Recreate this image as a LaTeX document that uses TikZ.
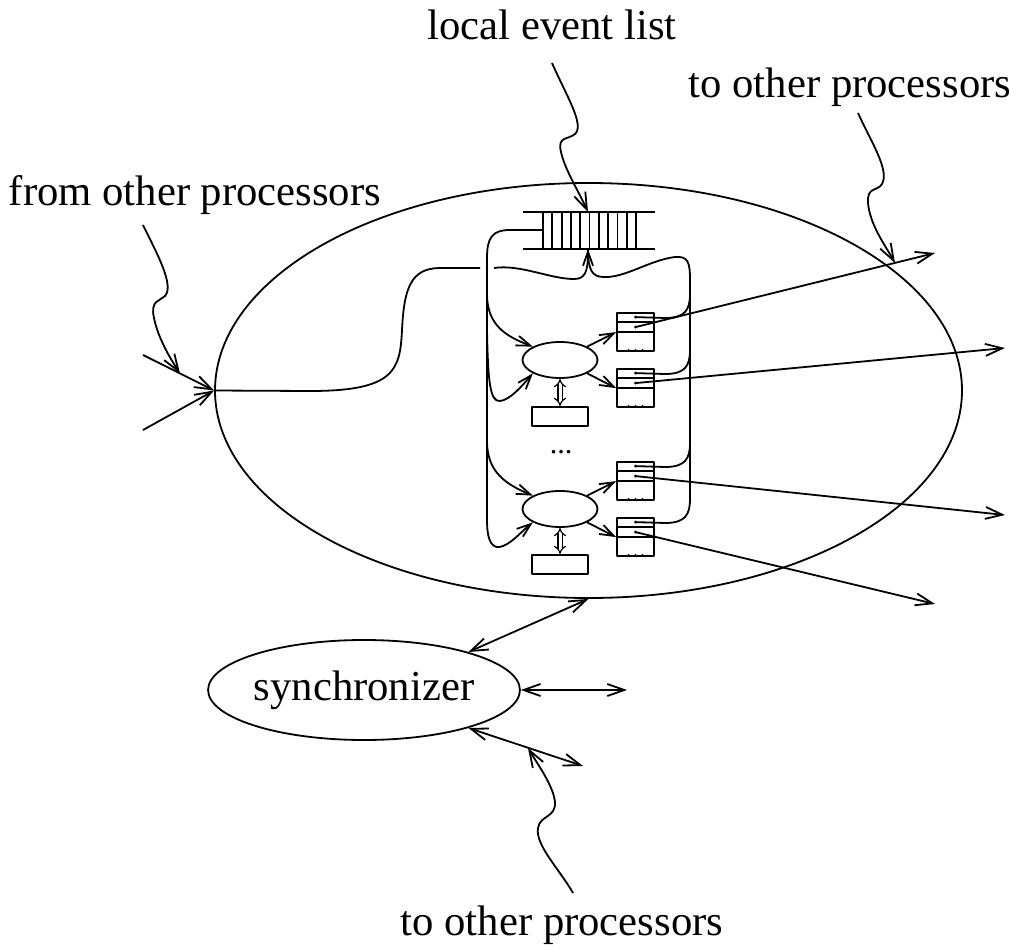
\documentclass[tikz,border=0pt]{standalone}
\usepackage{fontspec}
\setmainfont{Liberation Serif}
\usetikzlibrary{arrows.meta,shapes.geometric,calc}
\begin{document}
\begin{tikzpicture}[x=1pt,y=-1pt, line width=1.8pt, line join=round,
  lbl/.style={font=\fontsize{42.7}{50}\selectfont, anchor=base, inner sep=0pt},
  arr/.style={-{Straight Barb[length=17pt,width=12pt]}},
  darr/.style={{Straight Barb[length=17pt,width=12pt]}-{Straight Barb[length=17pt,width=12pt]}},
  sarr/.style={-{Straight Barb[length=14pt,width=10pt]}},
  dbl/.style={double, double distance=3pt, line width=1.2pt, {Implies[length=5pt]}-{Implies[length=5pt]}},
  qbox/.style={draw, rectangle, minimum width=37pt, minimum height=38pt, inner sep=0pt},
  proc/.style={draw, ellipse, minimum width=75pt, minimum height=36pt, inner sep=0pt},
  mem/.style={draw, rectangle, minimum width=56pt, minimum height=19pt, inner sep=0pt},
]
\useasboundingbox (0,0) rectangle (1025,950);

% labels
\node[lbl] (lel) at (552,40) {local event list};
\node[lbl] (tot) at (850,97) {to other processors};
\node[lbl] (fop) at (195,205) {from other processors};
\node[lbl] (tob) at (562,935) {to other processors};

% big processor ellipse
\node[draw, ellipse, minimum width=747pt, minimum height=415pt, inner sep=0pt] (pe) at (588.5,390.5) {};

% synchronizer
\node[draw, ellipse, minimum width=296pt, minimum height=100pt, inner sep=0pt,
      font=\fontsize{42.7}{50}\selectfont] (sync) at (364,690) {synchronizer};

% queue (local event list)
\coordinate (qtop) at (588,212);
\coordinate (qbot) at (588,249);
\coordinate (qleft) at (543,230);
\draw (523,212) -- (655,212);
\draw (523,249) -- (655,249);
\foreach \i in {0,...,10} \draw (543+\i*9.3,212) -- (543+\i*9.3,249);

% logical processes
\node[proc] (p1) at (560,360) {};
\node[proc] (p2) at (560,509) {};
\node[mem] (m1) at (560,416.5) {};
\node[mem] (m2) at (560,564.5) {};
\draw[dbl] (p1.south) -- (m1.north);
\draw[dbl] (p2.south) -- (m2.north);
\node[font=\fontsize{30}{30}\selectfont, inner sep=0pt] (dots) at (561,452) {...};

% output boxes
\node[qbox] (b1) at (635.5,332) {};
\node[qbox] (b2) at (635.5,388) {};
\node[qbox] (b3) at (635.5,481) {};
\node[qbox] (b4) at (635.5,537) {};
\foreach \b in {b1,b2,b3,b4} {
  \draw ($(\b.north west)+(0,10)$) -- ($(\b.north east)+(0,10)$);
  \draw ($(\b.north west)+(0,20)$) -- ($(\b.north east)+(0,20)$);
  \fill ($(\b.north)+(0,5)$) circle (1.6pt);
  \fill ($(\b.north)+(0,15)$) circle (1.6pt);
  \foreach \dx in {-7,0,7} \fill ($(\b.south)+(\dx,-2)$) circle (1pt);
}

% arrows from processes to boxes
\draw[sarr] (p1.north east) -- ($(b1.north west)+(0,20)$);
\draw[sarr] (p1.south east) -- ($(b2.north west)+(0,20)$);
\draw[sarr] (p2.north east) -- ($(b3.north west)+(0,20)$);
\draw[sarr] (p2.south east) -- ($(b4.north west)+(0,20)$);

% right trunk: box heads back to the queue
\draw ($(b1.north)+(0,5)$) -- (665,318) .. controls (685,318) and (690,310) .. (690,294);
\draw ($(b2.north)+(0,5)$) -- (665,374) .. controls (685,374) and (690,366) .. (690,350);
\draw ($(b3.north)+(0,5)$) -- (665,467) .. controls (685,467) and (690,459) .. (690,443);
\draw ($(b4.north)+(0,5)$) -- (665,523) .. controls (685,523) and (690,515) .. (690,499)
   -- (690,280) .. controls (690,262) and (688,256) .. (675,257)
   .. controls (650,260) and (625,278) .. (604,277)
   .. controls (592,277) and (588,270) .. (qbot);

% left trunk: queue to the processes
\draw[sarr] (qleft) -- (510,230) .. controls (492,230) and (487,238) .. (487,258)
   -- (487,520) .. controls (487,543) and (493,550) .. (503,546)
   .. controls (513,542) and (522,531) .. (p2.south west);
\draw[sarr] (487,296) .. controls (488,325) and (505,336) .. (p1.north west);
\draw[sarr] (487,330) .. controls (488,382) and (490,402) .. (500,401)
   .. controls (510,400) and (522,386) .. (p1.south west);
\draw[sarr] (487,443) .. controls (488,472) and (505,484) .. (p2.north west);

% input from other processors
\coordinate (inA) at (143,355);
\coordinate (inB) at (143,430);
\draw[arr] (inA) -- (pe.west);
\draw[arr] (inB) -- (pe.west);
\draw (pe.west) -- (310,391) .. controls (395,391) and (400,370) .. (402,330)
   .. controls (404,290) and (410,268) .. (440,268) -- (480,268);
\draw[sarr] (494,268) .. controls (520,264) and (550,279) .. (574,279)
   .. controls (585,279) and (588,272) .. (qbot);

% outputs to other processors
\coordinate (o1) at (935,253);
\coordinate (o2) at (1005,348);
\coordinate (o3) at (1005,515);
\coordinate (o4) at (935,604);
\draw[arr] ($(b1.north)+(0,15)$) -- (o1);
\draw[arr] ($(b2.north)+(0,15)$) -- (o2);
\draw[arr] ($(b3.north)+(0,15)$) -- (o3);
\draw[arr] ($(b4.north)+(0,15)$) -- (o4);

% synchronizer connections
\coordinate (s2) at (627,690);
\coordinate (s3) at (583,766);
\draw[darr] (sync.20) -- (pe.south);
\draw[darr] (sync.east) -- (s2);
\draw[darr] (sync.-20) -- (s3);

% wavy label pointers
\draw[arr] (552,63) .. controls (566,95) and (585,125) .. (575,134)
   .. controls (568,140) and (557,136) .. (561,152)
   .. controls (565,170) and (578,190) .. (qtop);
\draw[arr] (858,113) .. controls (870,140) and (890,170) .. (882,184)
   .. controls (877,192) and (867,186) .. (868,203)
   .. controls (870,225) and (885,245) .. (895,263);
\draw[arr] (143,225) .. controls (155,250) and (175,285) .. (165,296)
   .. controls (160,301) and (150,300) .. (154,318)
   .. controls (158,338) and (170,358) .. (180,373.5);
\draw[arr] (573,893) .. controls (560,870) and (535,845) .. (538,828)
   .. controls (540,815) and (556,818) .. (555,802)
   .. controls (553,785) and (538,765) .. (528,748);
\end{tikzpicture}
\end{document}
